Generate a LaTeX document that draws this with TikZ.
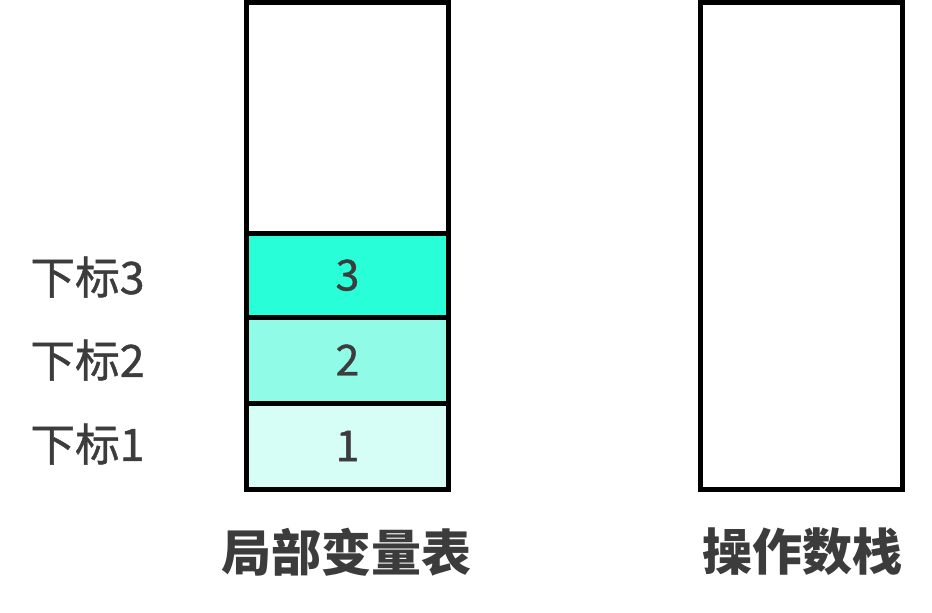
\documentclass[tikz,border=0pt]{standalone}
\usepackage{fontspec}
\setmainfont{Noto Sans CJK SC}
\newfontfamily\medfont[FakeBold=1]{Noto Sans CJK SC}
\definecolor{txt}{HTML}{3C3C3C}
\definecolor{cthree}{HTML}{28FFD9}
\definecolor{ctwo}{HTML}{90FCE8}
\definecolor{cone}{HTML}{D6FEF6}
\tikzset{
  cell/.style={draw=black, line width=3.75pt, minimum width=151.5pt, inner sep=0pt, text=txt, font=\medfont\fontsize{32pt}{32pt}\selectfont},
  idx/.style={text=txt, inner sep=0pt, font=\medfont\fontsize{33.5pt}{33.5pt}\selectfont},
  title/.style={text=txt, inner sep=0pt, font=\fontsize{37.5pt}{37.5pt}\selectfont\bfseries}
}
\begin{document}
\begin{tikzpicture}[x=0.75pt,y=-0.75pt]
\useasboundingbox (0,0) rectangle (932,613);
\node[cell, minimum height=173.25pt] (top) at (347.5,118) {};
\node[cell, fill=cthree, minimum height=62.625pt] (c3) at (347.5,275.25) {3};
\node[cell, fill=ctwo, minimum height=64.5pt] (c2) at (347.5,360) {2};
\node[cell, fill=cone, minimum height=64.5pt] (c1) at (347.5,446) {1};
\node[cell, minimum height=364.875pt] (ops) at (801.5,245.75) {};
\node[idx] (l3) at (87.5,277) {下标3};
\node[idx] (l2) at (87.5,360) {下标2};
\node[idx] (l1) at (87.5,444) {下标1};
\node[title] (t1) at (346,552) {局部变量表};
\node[title] (t2) at (802,552) {操作数栈};
\end{tikzpicture}
\end{document}
